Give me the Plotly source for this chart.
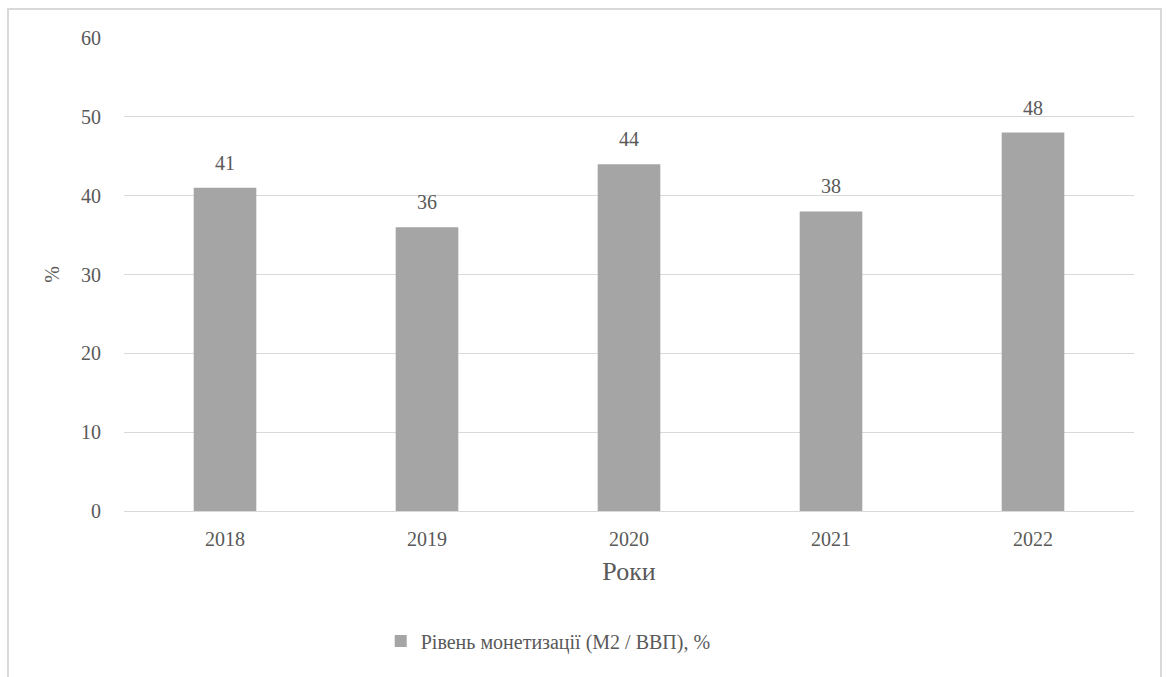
import plotly.graph_objects as go

years = [2018, 2019, 2020, 2021, 2022]
monetization = [41, 36, 44, 38, 48]
series_name = "Рівень монетизації (М2 / ВВП), %"
y_ticks = [0, 10, 20, 30, 40, 50, 60]

FONT = "Liberation Serif"
TEXT = "#595959"
BAR = "#a5a5a5"
GRID = "#d9d9d9"

fig = go.Figure()
fig.add_trace(go.Bar(
    x=years, y=monetization, name=series_name,
    marker=dict(color=BAR, line=dict(width=0)),
    width=0.31, showlegend=True,
))

# value labels above the bars
for yr, v in zip(years, monetization):
    fig.add_annotation(
        x=yr, y=v, text=str(v), showarrow=False,
        yanchor="bottom", yshift=12,
        font=dict(family=FONT, size=20, color=TEXT),
    )

# light frame around the whole chart
fig.add_shape(
    type="rect", xref="paper", yref="paper",
    x0=-0.1149, x1=1.0267, y0=-0.36, y1=1.0613,
    line=dict(color=GRID, width=2), fillcolor="rgba(0,0,0,0)", layer="below",
)

fig.update_layout(
    width=1166, height=677,
    margin=dict(l=124, r=32, t=38, b=166),
    paper_bgcolor="white", plot_bgcolor="white",
    font=dict(family=FONT, color=TEXT, size=20),
    showlegend=True,
    legend=dict(
        orientation="h", x=0.42, xanchor="center", y=-0.275, yanchor="middle",
        font=dict(family=FONT, size=20, color=TEXT),
    ),
    xaxis=dict(
        type="linear", range=[2017.5, 2022.5], tickvals=years,
        showgrid=False, showline=False, zeroline=False,
        ticks="outside", ticklen=10, tickcolor="rgba(0,0,0,0)",
        tickfont=dict(family=FONT, size=20, color=TEXT),
        title=dict(text="Роки", font=dict(family=FONT, size=26, color=TEXT), standoff=12),
    ),
    yaxis=dict(
        range=[0, 60], tickvals=y_ticks, showgrid=True, gridcolor=GRID, gridwidth=1,
        zeroline=True, zerolinecolor=GRID, zerolinewidth=1,
        showline=False, ticks="outside", ticklen=18, tickcolor="rgba(0,0,0,0)",
        tickfont=dict(family=FONT, size=20, color=TEXT),
        title=dict(text="%", font=dict(family=FONT, size=20, color=TEXT), standoff=16),
    ),
)

fig.write_html("out.html")
